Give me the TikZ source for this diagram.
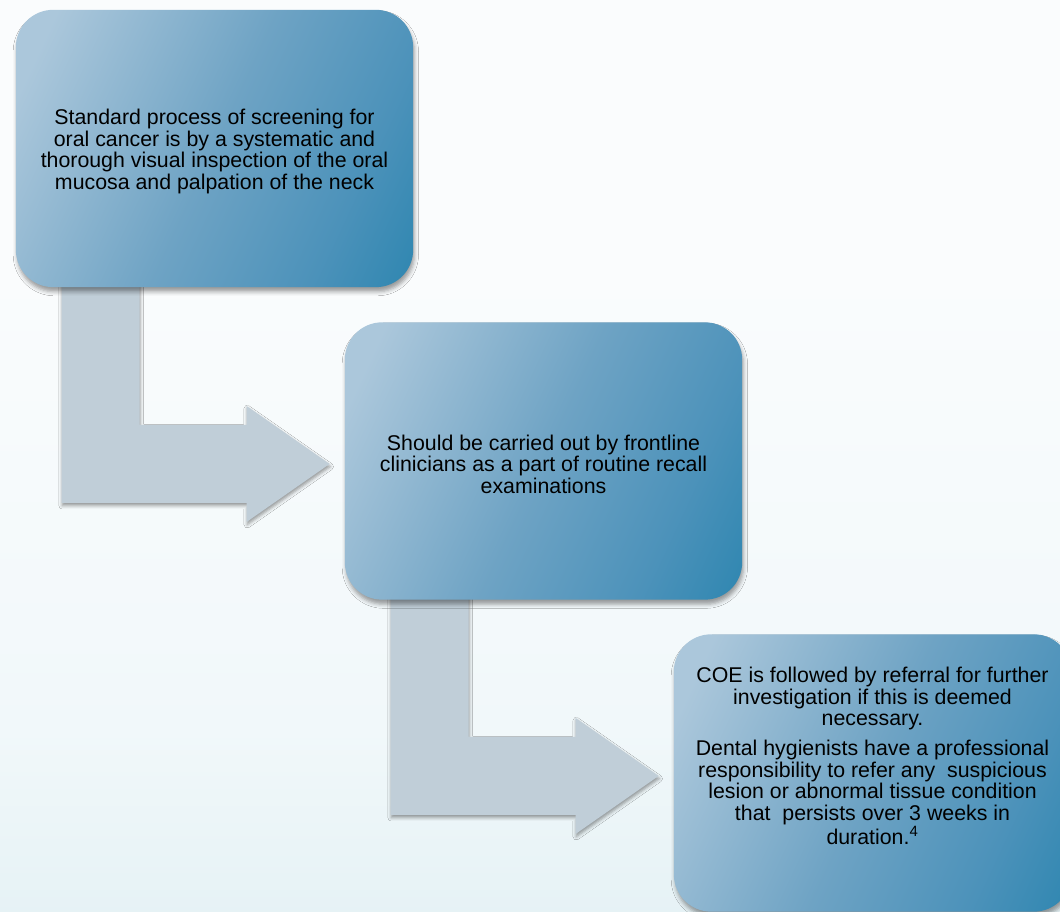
\documentclass[tikz,border=0pt]{standalone}
\usepackage{fontspec}
\setmainfont{Liberation Sans}
\usetikzlibrary{calc,shadows.blur}
\definecolor{boxlight}{HTML}{ABC7DB}
\definecolor{boxmid}{HTML}{6EA3C4}
\definecolor{boxdeep}{HTML}{4C92BA}
\definecolor{boxdark}{HTML}{2482AD}
\definecolor{arrowgray}{HTML}{C0CED8}
\definecolor{bgtop}{HTML}{FAFCFD}
\definecolor{bgmid}{HTML}{F1F8FA}
\definecolor{bgbot}{HTML}{CBE3EA}
\pgfdeclareverticalshading{bgshade}{100bp}{color(0bp)=(bgbot); color(35bp)=(bgmid); color(60bp)=(bgtop); color(100bp)=(bgtop)}
\pgfdeclarehorizontalshading{stageshade}{100bp}{color(0bp)=(boxlight); color(22bp)=(boxlight); color(50bp)=(boxmid); color(70bp)=(boxdeep); color(88bp)=(boxdark); color(100bp)=(boxdark)}
\pgfdeclarelayer{back}
\pgfsetlayers{back,main}
% bent arrow from the bottom of #1 to the left side of #2
\newcommand{\bentarrow}[2]{%
  \coordinate (s) at ($(#1.south west)+(46,0)$);
  \coordinate (t) at ($(#2.west)+(-15,-3)$);
  \fill[bent] ($(s)+(0,18)$) -- ($(s |- t)+(0,-39)$) -- ($(t)+(-83,-39)$) -- ++(0,-19) -- (t)
    -- ++(-83,58) -- ++(0,-19) -- ($(s |- t)+(78,39)$) -- ($(s)+(78,18)$) -- cycle;}
\begin{document}
\begin{tikzpicture} [x=0.75pt,y=0.75pt,
  stage/.style={rounded corners=28pt,minimum width=298pt,minimum height=208pt,align=center,
    shade,shading=stageshade,shading angle=-25,
    blur shadow={shadow xshift=1pt,shadow yshift=-3.5pt,shadow blur radius=3pt,shadow opacity=38},
    font=\fontsize{16}{16.5}\selectfont},
  stagetext/.style={align=center,font=\fontsize{16}{16.2}\selectfont},
  bent/.style={arrowgray,blur shadow={shadow xshift=0.5pt,shadow yshift=-2pt,shadow blur radius=2.5pt,shadow opacity=40}}]
\useasboundingbox (0,0) rectangle (1060,912) ;
\node [stage] (b1) at (214.5,763.5) {} ;
\node [stagetext] (t1) at ($(b1)+(0,-3)$) {Standard process of screening for\\oral cancer is by a systematic and\\thorough visual inspection of the oral\\mucosa and palpation of the neck} ;
\node [stage] (b2) at (543.5,451) {} ;
\node [stagetext] (t2) at ($(b2)+(0,-3)$) {Should be carried out by frontline\\clinicians as a part of routine recall\\examinations} ;
\node [stage] (b3) at (872.5,139) {} ;
\node [stagetext] (t3) at ($(b3)+(0,17)$) {COE is followed by referral for further\\investigation if this is deemed\\necessary.\\[6pt]Dental hygienists have a professional\\responsibility to refer any\ \ suspicious\\lesion or abnormal tissue condition\\that\ \ persists over 3 weeks in\\duration.\textsuperscript{4}} ;
\begin{pgfonlayer}{back}
\shade [shading=bgshade] (0,0) rectangle (1060,912) ;
\bentarrow{b1}{b2}
\bentarrow{b2}{b3}
\end{pgfonlayer}
\end{tikzpicture}
\end{document}
